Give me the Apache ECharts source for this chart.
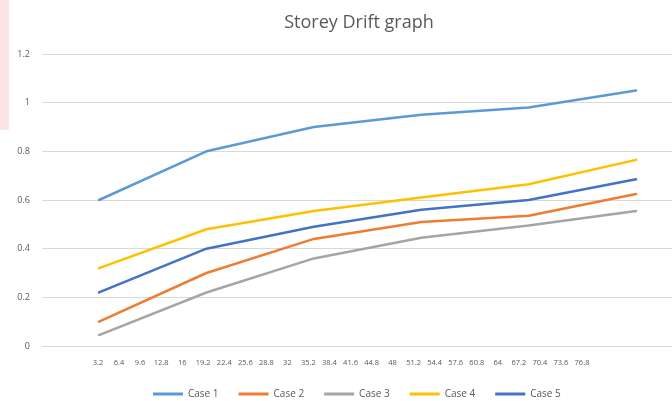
<!DOCTYPE html>
<html>
<head>
<meta charset="utf-8">
<script src="https://cdn.jsdelivr.net/npm/echarts@6/dist/echarts.min.js"></script>
<style>
  html, body { margin: 0; padding: 0; background: #ffffff; }
  #chart { width: 672px; height: 401px; }
</style>
</head>
<body>
<div id="chart"></div>
<script>
// Storey heights shown along the bottom axis (m)
var heightLabels = ['3.2', '6.4', '9.6', '12.8', '16', '19.2', '22.4', '25.6', '28.8', '32',
  '35.2', '38.4', '41.6', '44.8', '48', '51.2', '54.4', '57.6', '60.8', '64',
  '67.2', '70.4', '73.6', '76.8'];

// Drift values for each load case, one per plotted storey point
var case1 = [0.60, 0.80, 0.90, 0.95, 0.98, 1.05];
var case2 = [0.10, 0.30, 0.44, 0.51, 0.535, 0.625];
var case3 = [0.045, 0.22, 0.36, 0.445, 0.495, 0.555];
var case4 = [0.32, 0.48, 0.555, 0.61, 0.665, 0.765];
var case5 = [0.22, 0.40, 0.49, 0.56, 0.60, 0.685];

var yTicks = [0, 0.2, 0.4, 0.6, 0.8, 1, 1.2];

var caseNames = ['Case 1', 'Case 2', 'Case 3', 'Case 4', 'Case 5'];
var caseColors = ['#5B9BD5', '#ED7D31', '#A5A5A5', '#FFC000', '#4472C4'];
var caseData = [case1, case2, case3, case4, case5];

function toPoints(arr) {
  return arr.map(function (v, i) { return [i, v]; });
}

var chart = echarts.init(document.getElementById('chart'), null, { renderer: 'canvas' });

var series = caseData.map(function (arr, k) {
  return {
    name: caseNames[k],
    type: 'line',
    xAxisIndex: 0,
    yAxisIndex: 0,
    data: toPoints(arr),
    symbol: 'none',
    smooth: false,
    lineStyle: { color: caseColors[k], width: 2.5, cap: 'round', join: 'round' },
    itemStyle: { color: caseColors[k] },
    z: 3
  };
});

chart.setOption({
  animation: false,
  backgroundColor: '#ffffff',
  textStyle: { fontFamily: 'Open Sans' },
  title: {
    text: 'Storey Drift graph',
    left: 354,
    textAlign: 'center',
    top: 9,
    textStyle: { fontFamily: 'Open Sans', fontSize: 18, fontWeight: 'normal', color: '#595959' }
  },
  graphic: [{
    type: 'rect',
    shape: { x: 0, y: 0, width: 9, height: 130 },
    style: { fill: '#fde4e8' },
    z: -1
  }],
  legend: {
    data: caseNames,
    left: 148,
    top: 384,
    icon: 'rect',
    itemWidth: 30,
    itemHeight: 3,
    itemGap: 20,
    textStyle: { fontSize: 10, color: '#595959', fontFamily: 'Open Sans' }
  },
  grid: [
    { left: 42, right: 0, top: 54, bottom: 55, containLabel: false },
    { left: 98, right: 90, top: 54, bottom: 55, containLabel: false }
  ],
  xAxis: [
    {
      type: 'value',
      gridIndex: 0,
      min: -0.531,
      max: 5.335,
      show: false
    },
    {
      type: 'category',
      gridIndex: 1,
      data: heightLabels,
      boundaryGap: false,
      axisLine: { show: false },
      axisTick: { show: false },
      splitLine: { show: false },
      axisLabel: {
        interval: 0,
        hideOverlap: false,
        fontSize: 7.5,
        color: '#595959',
        margin: 13
      }
    }
  ],
  yAxis: [
    {
      type: 'value',
      gridIndex: 0,
      min: yTicks[0],
      max: yTicks[yTicks.length - 1],
      interval: 0.2,
      axisLine: { show: false },
      axisTick: { show: false },
      axisLabel: {
        fontSize: 9,
        color: '#595959',
        margin: 12,
        formatter: function (v) { return String(Math.round(v * 10) / 10); }
      },
      splitLine: { lineStyle: { color: '#d9d9d9', width: 1 } }
    },
    {
      type: 'value',
      gridIndex: 1,
      min: 0,
      max: 1.2,
      show: false
    }
  ],
  series: series
});
</script>
</body>
</html>
